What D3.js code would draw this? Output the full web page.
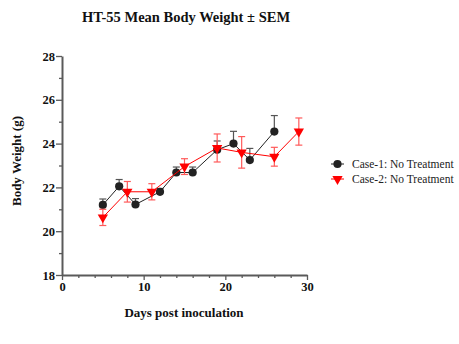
<!DOCTYPE html>
<html>
<head>
<meta charset="utf-8">
<script src="https://cdn.jsdelivr.net/npm/d3@7"></script>
<style>
  html, body { margin: 0; padding: 0; background: #fff; }
  svg { display: block; }
  text { font-family: "Liberation Serif", "Times New Roman", serif; }
</style>
</head>
<body>
<svg id="chart" width="459" height="344"></svg>
<script>
const width = 459
const height = 344

// Case-1: No Treatment
const case1Days = [5, 7, 9, 12, 14, 16, 19, 21, 23, 26]
const case1Mean = [21.2, 22.05, 21.22, 21.8, 22.68, 22.68, 23.72, 24.0, 23.25, 24.55]
const case1Sem = [0.27, 0.31, 0.27, 0.15, 0.25, 0.25, 0.4, 0.56, 0.53, 0.73]

// Case-2: No Treatment
const case2Days = [5, 8, 11, 15, 19, 22, 26, 29]
const case2Mean = [20.63, 21.8, 21.8, 22.95, 23.8, 23.6, 23.4, 24.55]
const case2Sem = [0.37, 0.47, 0.37, 0.36, 0.64, 0.72, 0.43, 0.62]

const xTicks = [0, 10, 20, 30]
const yTicks = [18, 20, 22, 24, 26, 28]

const series = [
  { name: 'Case-1: No Treatment', days: case1Days, mean: case1Mean, sem: case1Sem,
    color: '#222', barColor: '#555', marker: 'circle', bothWays: false },
  { name: 'Case-2: No Treatment', days: case2Days, mean: case2Mean, sem: case2Sem,
    color: '#ff0000', barColor: '#ff5a5a', marker: 'triangle', bothWays: true }
]

const svg = d3.select('svg#chart')

const x = d3.scaleLinear().domain([0, 30]).range([62, 307])
const y = d3.scaleLinear().domain([18, 28]).range([275, 56])

const axisColor = '#5a5a5a'

// y axis, major + minor ticks
svg.append('g')
  .attr('transform', `translate(${x(0)},0)`)
  .call(d3.axisLeft(y).tickValues(yTicks).tickSize(6).tickSizeOuter(0).tickPadding(1))
svg.append('g')
  .attr('transform', `translate(${x(0)},0)`)
  .call(d3.axisLeft(y).tickValues(d3.range(19, 28, 2)).tickSize(3).tickFormat(''))
  .call(g => g.select('.domain').remove())

// x axis, major + minor ticks
svg.append('g')
  .attr('transform', `translate(0,${y(18)})`)
  .call(d3.axisBottom(x).tickValues(xTicks).tickSize(5).tickSizeOuter(0).tickPadding(2))
svg.append('g')
  .attr('transform', `translate(0,${y(18)})`)
  .call(d3.axisBottom(x).tickValues(d3.range(2, 30, 2).filter(d => d % 10 !== 0)).tickSize(3).tickFormat(''))
  .call(g => g.select('.domain').remove())

svg.selectAll('.domain').attr('stroke', axisColor).attr('stroke-width', 2)
svg.selectAll('.tick line').attr('stroke', axisColor).attr('stroke-width', 1.3)
svg.selectAll('.tick text')
  .attr('fill', '#111')
  .style('font-family', '"Liberation Serif", "Times New Roman", serif')
  .style('font-size', '12.5px')
  .style('font-weight', 'bold')

const triangle = d3.symbol().type(d3.symbolTriangle).size(46)

function drawMarker (g, type, color) {
  if (type === 'circle') {
    g.append('circle').attr('r', 4.1).attr('fill', color)
  } else {
    g.append('path').attr('d', triangle).attr('transform', 'rotate(180)').attr('fill', color)
  }
}

const plot = svg.append('g')

series.forEach(s => {
  const pts = s.days.map((d, i) => ({ day: d, mean: s.mean[i], sem: s.sem[i] }))
  const g = plot.append('g')

  // error bars: case 1 only upward, case 2 both ways
  const bars = g.selectAll('.bar').data(pts).join('g').attr('class', 'bar')
    .attr('stroke', s.barColor).attr('stroke-width', 1.2)
  bars.append('line')
    .attr('x1', d => x(d.day)).attr('x2', d => x(d.day))
    .attr('y1', d => y(d.mean + d.sem))
    .attr('y2', d => y(s.bothWays ? d.mean - d.sem : d.mean))
  bars.append('line')
    .attr('x1', d => x(d.day) - 3.5).attr('x2', d => x(d.day) + 3.5)
    .attr('y1', d => y(d.mean + d.sem)).attr('y2', d => y(d.mean + d.sem))
  if (s.bothWays) {
    bars.append('line')
      .attr('x1', d => x(d.day) - 3.5).attr('x2', d => x(d.day) + 3.5)
      .attr('y1', d => y(d.mean - d.sem)).attr('y2', d => y(d.mean - d.sem))
  }

  g.append('path')
    .datum(pts)
    .attr('fill', 'none')
    .attr('stroke', s.color)
    .attr('stroke-width', 1)
    .attr('d', d3.line().x(d => x(d.day)).y(d => y(d.mean)))

  g.selectAll('.pt').data(pts).join('g').attr('class', 'pt')
    .attr('transform', d => `translate(${x(d.day)},${y(d.mean)})`)
    .each(function () { drawMarker(d3.select(this), s.marker, s.color) })
})

// legend
const legend = svg.append('g').attr('transform', 'translate(331,164)')
series.forEach((s, i) => {
  const row = legend.append('g').attr('transform', `translate(0,${i * 15})`)
  row.append('line').attr('x1', 0).attr('x2', 13).attr('stroke', s.color).attr('stroke-width', 1)
  const m = row.append('g').attr('transform', 'translate(6.5,0)')
  drawMarker(m, s.marker, s.color)
  row.append('text')
    .attr('x', 21).attr('y', 4)
    .attr('font-size', 11.5)
    .attr('fill', '#222')
    .text(s.name)
})

// titles
svg.append('text')
  .attr('x', 186).attr('y', 22)
  .attr('text-anchor', 'middle')
  .attr('font-size', 14.5)
  .attr('font-weight', 'bold')
  .attr('fill', '#111')
  .text('HT-55 Mean Body Weight ± SEM')

svg.append('text')
  .attr('x', 184).attr('y', 317)
  .attr('text-anchor', 'middle')
  .attr('font-size', 13)
  .attr('font-weight', 'bold')
  .attr('fill', '#111')
  .text('Days post inoculation')

svg.append('text')
  .attr('transform', 'translate(21,161) rotate(-90)')
  .attr('text-anchor', 'middle')
  .attr('font-size', 13)
  .attr('font-weight', 'bold')
  .attr('fill', '#111')
  .text('Body Weight (g)')
</script>
</body>
</html>
